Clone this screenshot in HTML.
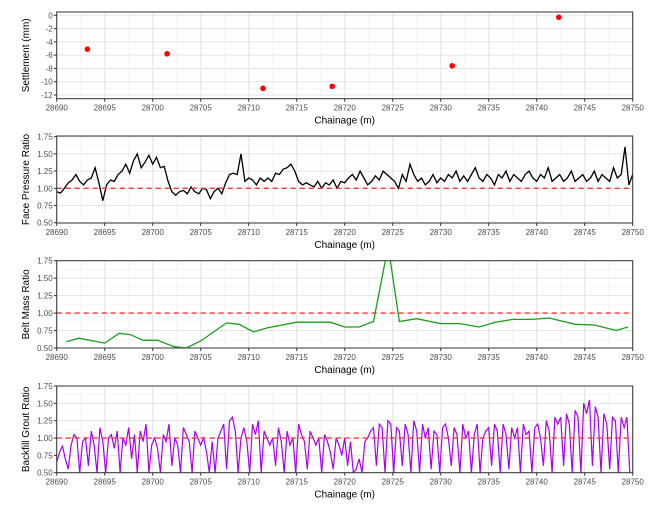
<!DOCTYPE html>
<html><head><meta charset="utf-8"><style>
body{margin:0;background:#fff;font-family:"Liberation Sans",Arial,sans-serif}
svg text{font-family:"Liberation Sans",Arial,sans-serif}
</style></head><body>
<svg id="c" width="659" height="503" xmlns="http://www.w3.org/2000/svg"></svg>
<script>
const xTicks=[28690,28695,28700,28705,28710,28715,28720,28725,28730,28735,28740,28745,28750];
const settleX=[28693.2,28701.5,28711.5,28718.7,28731.2,28742.3];
const settleY=[-5.1,-5.8,-11,-10.7,-7.6,-0.3];
const settleTicks=[0,-2,-4,-6,-8,-10,-12];
const ratioTicks=[0.5,0.75,1.0,1.25,1.5,1.75];
const faceStart=28690, faceStep=0.4;
const faceY=[0.95,0.93,1.0,1.08,1.12,1.2,1.1,1.05,1.12,1.15,1.3,1.08,0.82,1.05,1.12,1.1,1.2,1.25,1.35,1.22,1.4,1.5,1.3,1.38,1.48,1.35,1.45,1.3,1.32,1.1,0.95,0.9,0.95,0.97,0.92,1.02,0.95,0.92,1.0,0.98,0.85,0.95,1.0,0.92,1.08,1.2,1.22,1.2,1.5,1.1,1.15,1.12,1.05,1.15,1.1,1.15,1.1,1.22,1.2,1.28,1.3,1.35,1.25,1.1,1.05,1.08,1.05,1.02,1.1,1.0,1.08,1.05,1.12,1.0,1.1,1.08,1.15,1.2,1.12,1.25,1.15,1.05,1.1,1.18,1.12,1.25,1.2,1.15,1.1,1.0,1.2,1.1,1.35,1.2,1.1,1.15,1.05,1.1,1.2,1.08,1.15,1.1,1.2,1.15,1.25,1.1,1.18,1.1,1.2,1.3,1.15,1.1,1.2,1.15,1.05,1.2,1.15,1.25,1.1,1.2,1.15,1.1,1.2,1.25,1.15,1.1,1.2,1.15,1.3,1.1,1.15,1.2,1.1,1.15,1.25,1.1,1.15,1.2,1.1,1.15,1.25,1.1,1.2,1.15,1.1,1.3,1.15,1.2,1.6,1.05,1.2];
const beltX=[28691,28692.3,28695,28696.5,28697.7,28699,28700.5,28702.2,28703.5,28705,28707.7,28709,28710.5,28712,28715,28718.5,28720,28721.5,28723,28724.3,28724.7,28725.7,28727.5,28730,28732,28734,28735.7,28737.5,28739.5,28741.3,28744,28746,28748.3,28749.5];
const beltY=[0.59,0.64,0.57,0.71,0.69,0.61,0.61,0.52,0.5,0.6,0.86,0.84,0.73,0.79,0.87,0.87,0.8,0.8,0.88,1.8,1.8,0.88,0.92,0.85,0.85,0.8,0.87,0.91,0.91,0.93,0.84,0.83,0.75,0.8];
const groutStart=28690, groutStep=0.3;
const groutY=[0.65,0.8,0.88,0.7,0.55,0.9,1.05,1.0,0.5,0.95,1.0,0.6,1.1,0.9,0.5,1.15,0.95,0.5,1.0,1.05,0.85,1.1,0.5,1.0,0.9,1.15,0.7,1.05,0.5,1.1,0.95,1.2,0.5,0.9,1.0,0.85,0.5,1.05,0.95,1.2,0.6,1.0,0.9,0.5,1.15,1.05,0.95,0.5,1.1,1.0,0.9,1.0,0.8,0.5,0.95,0.5,1.0,1.1,1.2,0.55,1.25,1.3,1.1,0.5,1.0,1.15,0.95,0.5,1.2,1.05,1.25,0.5,1.1,1.0,0.9,1.0,0.6,1.15,0.95,0.5,1.1,0.9,1.0,0.5,1.2,1.05,0.95,0.55,1.1,1.0,0.9,1.0,0.5,1.05,0.95,0.8,0.55,1.0,0.9,0.75,1.0,0.6,0.95,0.5,0.55,0.7,0.5,0.95,1.0,1.1,1.15,0.6,1.2,1.15,0.5,1.25,1.2,0.5,1.15,1.1,0.6,1.2,1.05,0.5,1.25,1.1,0.5,1.2,1.0,1.15,0.55,1.1,1.05,0.5,1.15,1.2,1.0,0.6,1.15,1.05,0.5,1.2,1.0,1.1,0.5,1.05,1.2,0.5,1.0,1.1,1.15,0.6,1.2,1.1,0.5,1.2,1.05,0.55,1.15,1.0,1.15,0.5,1.2,1.05,1.1,0.5,1.15,1.2,1.0,0.6,1.25,1.1,0.5,1.3,1.2,1.3,0.6,1.35,1.2,0.5,1.4,1.3,0.5,1.5,1.35,1.55,0.6,1.45,1.3,0.5,1.35,1.2,0.55,1.3,1.25,0.5,1.3,1.15,1.3,0.5];

const svg=document.getElementById('c');
const NS='http://www.w3.org/2000/svg';
const X0=56.7,X1=632.7;
function sx(v){return X0+(v-28690)/(60)*(X1-X0);}
function mk(tag,attrs,parent){const e=document.createElementNS(NS,tag);for(const k in attrs)e.setAttribute(k,attrs[k]);(parent||svg).appendChild(e);return e;}

function panel(o){
  const g=mk('g',{});
  
  
  const sy=v=>o.yA+(v-o.vA)/(o.vB-o.vA)*(o.yB-o.yA);
  const defs=mk('clipPath',{id:'clip'+o.id},g);
  mk('rect',{x:X0,y:o.top,width:X1-X0,height:o.bot-o.top},defs);
  for(let i=0;i<xTicks.length-1;i++){const x=sx(xTicks[i]+2.5);mk('line',{x1:x,x2:x,y1:o.top,y2:o.bot,stroke:'#f2f2f2','stroke-width':0.6},g);}
  for(let i=0;i<o.ticks.length-1;i++){const y=sy((o.ticks[i]+o.ticks[i+1])/2);mk('line',{x1:X0,x2:X1,y1:y,y2:y,stroke:'#f2f2f2','stroke-width':0.6},g);}
  for(const t of xTicks){const x=sx(t);mk('line',{x1:x,x2:x,y1:o.top,y2:o.bot,stroke:'#e3e3e3','stroke-width':1},g);}
  for(const t of o.ticks){const y=sy(t);mk('line',{x1:X0,x2:X1,y1:y,y2:y,stroke:'#e3e3e3','stroke-width':1},g);}
  const plot=mk('g',{'clip-path':'url(#clip'+o.id+')'},g);
  o.draw(plot,sy);
  const border=mk('rect',{x:X0,y:o.top,width:X1-X0,height:o.bot-o.top,fill:'none',stroke:'#333','stroke-width':1},g);
  
  
  for(const t of xTicks){const x=sx(t);
    mk('line',{x1:x,x2:x,y1:o.bot,y2:o.bot+3,stroke:'#333'},g);
    const tx=mk('text',{x:x,y:o.bot+12,'font-size':8,fill:'#4d4d4d','text-anchor':'middle'},g);tx.textContent=t;
    
    }
  for(const t of o.ticks){const y=sy(t);
    mk('line',{x1:X0-3,x2:X0,y1:y,y2:y,stroke:'#333'},g);
    const tx=mk('text',{x:X0-4,y:y+3,'font-size':8,fill:'#4d4d4d','text-anchor':'end'},g);tx.textContent=o.fmt(t);
    
    }
  const xt=mk('text',{x:(X0+X1)/2,y:o.bot+25,'font-size':10,fill:'#000','text-anchor':'middle'},g);xt.textContent='Chainage (m)';
  
  
  const cy=(o.top+o.bot)/2;
  const yt=mk('text',{x:29,y:cy,'font-size':10,fill:'#000','text-anchor':'middle',transform:'rotate(-90 29 '+cy+')'},g);yt.textContent=o.title;
  
  
}
function refLine(p,sy){const y=sy(1);const l=mk('line',{x1:X0,x2:X1,y1:y,y2:y,stroke:'#ff3333','stroke-width':1.4,'stroke-dasharray':'5,4'},p);
  
  }
const f2=t=>t.toFixed(2);

panel({id:1,name:'settlement-panel',top:12,bot:98.7,yA:15.3,vA:0,yB:95,vB:-12,ticks:settleTicks,fmt:t=>String(t),title:'Settlement (mm)',
 draw:(p,sy)=>{settleX.forEach((x,i)=>{const c=mk('circle',{cx:sx(x),cy:sy(settleY[i]),r:2.8,fill:'#ff0000'},p);
  
  });}});
panel({id:2,name:'face-pressure-panel',top:136,bot:223,yA:136.7,vA:1.75,yB:222.7,vB:0.5,ticks:ratioTicks,fmt:f2,title:'Face Pressure Ratio',
 draw:(p,sy)=>{const d=faceY.map((v,i)=>(i?'L':'M')+sx(faceStart+i*faceStep).toFixed(1)+','+sy(v).toFixed(1)).join('');
  const l=mk('path',{d:d,fill:'none',stroke:'#000','stroke-width':1.3},p);
  
  
  refLine(p,sy);}});
panel({id:3,name:'belt-mass-panel',top:260.7,bot:348,yA:260.7,vA:1.75,yB:348,vB:0.5,ticks:ratioTicks,fmt:f2,title:'Belt Mass Ratio',
 draw:(p,sy)=>{refLine(p,sy);const d=beltX.map((x,i)=>(i?'L':'M')+sx(x).toFixed(1)+','+sy(beltY[i]).toFixed(1)).join('');
  const l=mk('path',{d:d,fill:'none',stroke:'#1a9e1a','stroke-width':1.3},p);
  
  }});
panel({id:4,name:'backfill-grout-panel',top:386,bot:472.7,yA:386,vA:1.75,yB:472.7,vB:0.5,ticks:ratioTicks,fmt:f2,title:'Backfill Grout Ratio',
 draw:(p,sy)=>{const d=groutY.map((v,i)=>(i?'L':'M')+sx(groutStart+i*groutStep).toFixed(1)+','+sy(v).toFixed(1)).join('');
  const l=mk('path',{d:d,fill:'none',stroke:'#aa00ee','stroke-width':1.2},p);
  
  
  refLine(p,sy);}});
</script>
</body></html>
